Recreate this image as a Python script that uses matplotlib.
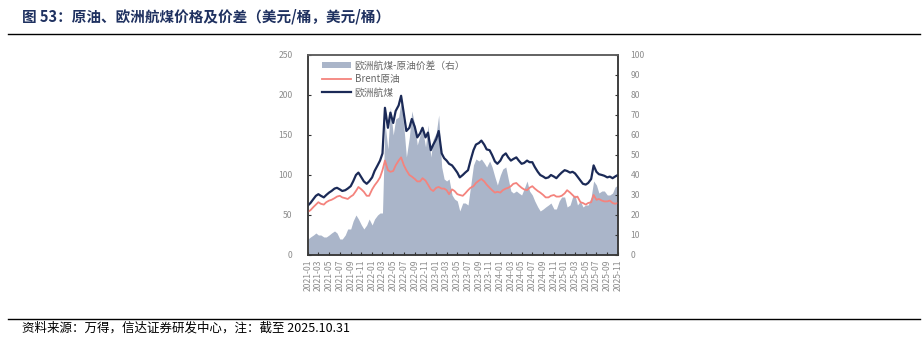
import pandas as pd
import matplotlib.pyplot as plt
import matplotlib.dates as mdates

plt.rcParams['font.family'] = ['Noto Sans CJK SC', 'DejaVu Sans']
plt.rcParams['axes.unicode_minus'] = False

# semi-monthly readings (1st and 15th), 2021-01 .. 2025-10, plus 2025-10-31
jet_europe = [
    62, 65, 70, 74, 76, 74, 72, 75, 78, 80, 83, 84,
    82, 80, 81, 83, 86, 92, 100, 103, 97, 92, 89, 92,
    97, 105, 112, 118, 127, 184, 159, 178, 165, 180, 187, 199,
    176, 155, 159, 170, 160, 147, 152, 159, 147, 153, 131, 138,
    145, 155, 127, 121, 118, 114, 112, 108, 103, 97, 100, 103,
    106, 118, 131, 138, 140, 143, 138, 132, 131, 125, 117, 114,
    118, 124, 127, 122, 118, 120, 122, 118, 114, 115, 118, 116,
    116, 110, 104, 100, 98, 96, 97, 100, 98, 96, 100, 103,
    106, 105, 103, 104, 102, 98, 93, 89, 88, 90, 95, 112,
    104, 101, 100, 99, 97, 98, 96, 98,
    100,
]
brent = [
    54, 56, 60, 63, 66, 64, 63, 66, 68, 69, 71, 73,
    74, 72, 71, 70, 73, 75, 80, 85, 82, 79, 74, 74,
    82, 87, 92, 97, 106, 118, 106, 104, 105, 112, 118, 122,
    112, 106, 100, 98, 95, 92, 92, 96, 93, 88, 82, 80,
    84, 85, 83, 83, 81, 76, 82, 80, 76, 75, 74, 77,
    81, 84, 86, 90, 93, 95, 92, 88, 84, 81, 78, 79,
    78, 81, 83, 84, 86, 89, 90, 87, 84, 82, 81, 84,
    86, 83, 80, 78, 75, 72, 72, 74, 75, 73, 73, 74,
    77, 81, 78, 75, 72, 73, 66, 65, 63, 65, 66, 75,
    69, 70, 68, 67, 67, 68, 65, 64,
    65,
]
dates = list(pd.date_range('2021-01-01', '2025-10-15', freq='SMS')) + [pd.Timestamp('2025-10-31')]

df = pd.DataFrame({'jet': jet_europe, 'brent': brent}, index=dates)
df['spread'] = df['jet'] - df['brent']

tick_dates = pd.date_range('2021-01-01', '2025-11-01', freq='2MS')

fig = plt.figure(figsize=(9.23, 3.38), dpi=100)
ax = fig.add_axes([0.3337, 0.2456, 0.3359, 0.5917])
ax2 = ax.twinx()

area = ax2.fill_between(df.index, 0, df['spread'], color='#aab5c9', lw=0,
                        label='欧洲航煤-原油价差（右）')
l_brent, = ax.plot(df.index, df['brent'], color='#f4837d', lw=1.3, label='Brent原油')
l_jet, = ax.plot(df.index, df['jet'], color='#1b2a57', lw=1.6, label='欧洲航煤')

ax.set_zorder(ax2.get_zorder() + 1)
ax.patch.set_visible(False)

ax.set_ylim(0, 250)
ax.set_yticks(range(0, 251, 50))
ax2.set_ylim(0, 100)
ax2.set_yticks(range(0, 101, 10))
ax.set_xlim(pd.Timestamp('2021-01-01'), pd.Timestamp('2025-11-01'))
ax.set_xticks(tick_dates)
ax.xaxis.set_major_formatter(mdates.DateFormatter('%Y-%m'))

lab_color = '#8c8c8c'
for a in (ax, ax2):
    for s in a.spines.values():
        s.set_color('#3a3a3a')
        s.set_linewidth(1.1)
    a.tick_params(labelsize=6.2, labelcolor=lab_color, direction='in', length=2.5,
                  width=0.8, color='#333333')
ax.tick_params(axis='x', rotation=90, pad=3)
ax.tick_params(axis='y', pad=11)
ax2.tick_params(axis='y', pad=9)
ax.spines['top'].set_color('#666666')

leg = ax.legend([area, l_brent, l_jet],
                ['欧洲航煤-原油价差（右）', 'Brent原油', '欧洲航煤'],
                loc='upper left', bbox_to_anchor=(0.025, 1.0), frameon=False,
                fontsize=7, handlelength=3.0, handleheight=0.6,
                labelspacing=0.35, borderaxespad=0.2, handletextpad=0.4)
for t in leg.get_texts():
    t.set_color('#666666')

fig.text(0.024, 0.95, '图 53：原油、欧洲航煤价格及价差（美元/桶，美元/桶）',
         fontsize=10.5, fontweight='bold', color='#1f3160', va='center')
fig.add_artist(plt.Line2D([0.009, 0.997], [0.898, 0.898], color='black', lw=1.0))
fig.add_artist(plt.Line2D([0.009, 0.997], [0.056, 0.056], color='black', lw=1.0))
fig.text(0.024, 0.029, '资料来源：万得，信达证券研发中心，注：截至 2025.10.31',
         fontsize=9, color='black', va='center', style='italic')

fig.savefig('out.png', dpi=100)
